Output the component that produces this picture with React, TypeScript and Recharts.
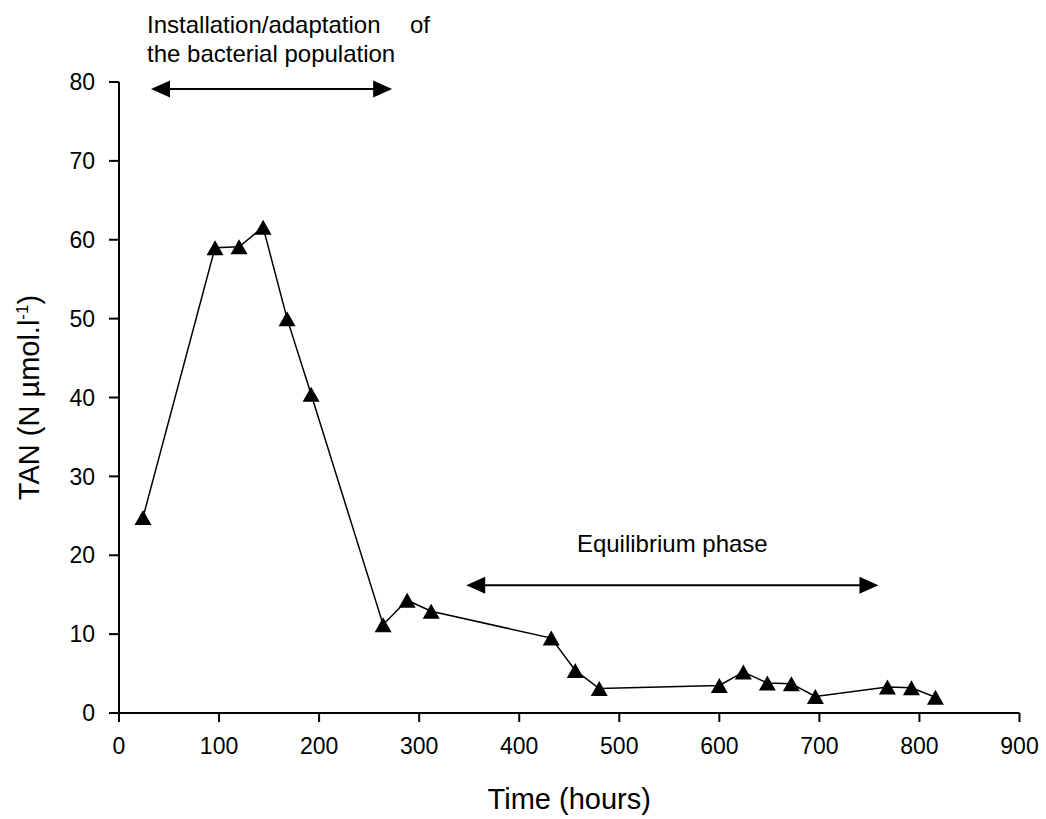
import React from 'react'
import { LineChart, Line, XAxis, YAxis, ReferenceLine } from 'recharts'

// sampling times (hours) and total ammonia nitrogen
const HOURS = [24, 96, 120, 144, 168, 192, 264, 288, 312, 432, 456, 480, 600, 624, 648, 672, 696, 768, 792, 816]
const TAN = [24.8, 59.0, 59.1, 61.6, 50.0, 40.4, 11.2, 14.3, 12.9, 9.5, 5.4, 3.1, 3.5, 5.2, 3.8, 3.7, 2.1, 3.3, 3.2, 2.0]

const X_TICKS = [0, 100, 200, 300, 400, 500, 600, 700, 800, 900]
const Y_TICKS = [0, 10, 20, 30, 40, 50, 60, 70, 80]

// phase arrows: [start hour, end hour] and the level they sit at
const ADAPTATION_SPAN = [32, 273]
const ADAPTATION_LEVEL = 79.1
const EQUILIBRIUM_SPAN = [347, 759]
const EQUILIBRIUM_LEVEL = 16.2

const FONT = '"Liberation Sans", Arial, Helvetica, sans-serif'

const data = HOURS.map((h, i) => ({ hours: h, tan: TAN[i] }))

const Triangle = (props: any) => {
  const { cx, cy, index } = props
  if (cx == null || cy == null) return null
  const w = 8.5
  const h = 7.5
  return (
    <polygon
      key={`tri-${index}`}
      points={`${cx},${cy - h} ${cx - w},${cy + h} ${cx + w},${cy + h}`}
      fill="#000"
    />
  )
}

const drawArrow = (x1: number, x2: number, y: number) => {
  const len = 19
  const half = 8.5
  return (
    <g>
      <line x1={x1 + len - 2} y1={y} x2={x2 - len + 2} y2={y} stroke="#000" strokeWidth={2} />
      <polygon points={`${x1},${y} ${x1 + len},${y - half} ${x1 + len},${y + half}`} fill="#000" />
      <polygon points={`${x2},${y} ${x2 - len},${y - half} ${x2 - len},${y + half}`} fill="#000" />
    </g>
  )
}

const AdaptationArrow = (props: any) => {
  const { x1, y1, x2 } = props
  return (
    <g>
      {drawArrow(x1, x2, y1)}
      <text x={x1 - 4} y={y1 - 56} fontSize={24} fontFamily={FONT} fill="#000">
        <tspan>Installation/adaptation</tspan>
        <tspan x={x1 + 259}>of</tspan>
      </text>
      <text x={x1 - 4} y={y1 - 27} fontSize={24} fontFamily={FONT} fill="#000">
        the bacterial population
      </text>
    </g>
  )
}

const EquilibriumArrow = (props: any) => {
  const { x1, y1, x2 } = props
  return (
    <g>
      {drawArrow(x1, x2, y1)}
      <text x={(x1 + x2) / 2} y={y1 - 33} fontSize={24} fontFamily={FONT} fill="#000" textAnchor="middle">
        Equilibrium phase
      </text>
    </g>
  )
}

const XTitle = (props: any) => {
  const { x, y, width } = props.viewBox
  return (
    <text x={x + width / 2} y={y + 96} fontSize={29} fontFamily={FONT} fill="#000" textAnchor="middle">
      Time (hours)
    </text>
  )
}

const YTitle = (props: any) => {
  const { x, y, height } = props.viewBox
  const cx = x
  const cy = y + height / 2
  return (
    <text
      x={cx}
      y={cy}
      transform={`rotate(-90 ${cx} ${cy})`}
      fontSize={29}
      fontFamily={FONT}
      fill="#000"
      textAnchor="middle"
    >
      <tspan>TAN (N µmol.l</tspan>
      <tspan fontSize={17} dy={-11}>-1</tspan>
      <tspan dy={11}>)</tspan>
    </text>
  )
}

export default function App() {
  return (
    <div style={{ position: 'absolute', left: 0, top: 0, background: '#fff' }}>
      <LineChart
        width={1046}
        height={819}
        data={data}
        margin={{ top: 82, right: 26.5, bottom: 46, left: 39 }}
      >
        <XAxis
          dataKey="hours"
          type="number"
          domain={[0, 900]}
          ticks={X_TICKS}
          interval={0}
          height={60}
          tickSize={9}
          tickMargin={16}
          axisLine={{ stroke: '#000', strokeWidth: 2 }}
          tickLine={{ stroke: '#000', strokeWidth: 2 }}
          tick={{ fill: '#000', fontSize: 23, fontFamily: FONT }}
          label={<XTitle />}
        />
        <YAxis
          type="number"
          domain={[0, 80]}
          ticks={Y_TICKS}
          interval={0}
          width={80}
          tickSize={10}
          tickMargin={14}
          axisLine={{ stroke: '#000', strokeWidth: 2 }}
          tickLine={{ stroke: '#000', strokeWidth: 2 }}
          tick={{ fill: '#000', fontSize: 23, fontFamily: FONT }}
          label={<YTitle />}
        />
        <ReferenceLine
          segment={[
            { x: ADAPTATION_SPAN[0], y: ADAPTATION_LEVEL },
            { x: ADAPTATION_SPAN[1], y: ADAPTATION_LEVEL },
          ]}
          ifOverflow="visible"
          shape={AdaptationArrow}
        />
        <ReferenceLine
          segment={[
            { x: EQUILIBRIUM_SPAN[0], y: EQUILIBRIUM_LEVEL },
            { x: EQUILIBRIUM_SPAN[1], y: EQUILIBRIUM_LEVEL },
          ]}
          ifOverflow="visible"
          shape={EquilibriumArrow}
        />
        <Line
          type="linear"
          dataKey="tan"
          stroke="#000"
          strokeWidth={1.5}
          dot={Triangle}
          activeDot={false}
          isAnimationActive={false}
        />
      </LineChart>
    </div>
  )
}
